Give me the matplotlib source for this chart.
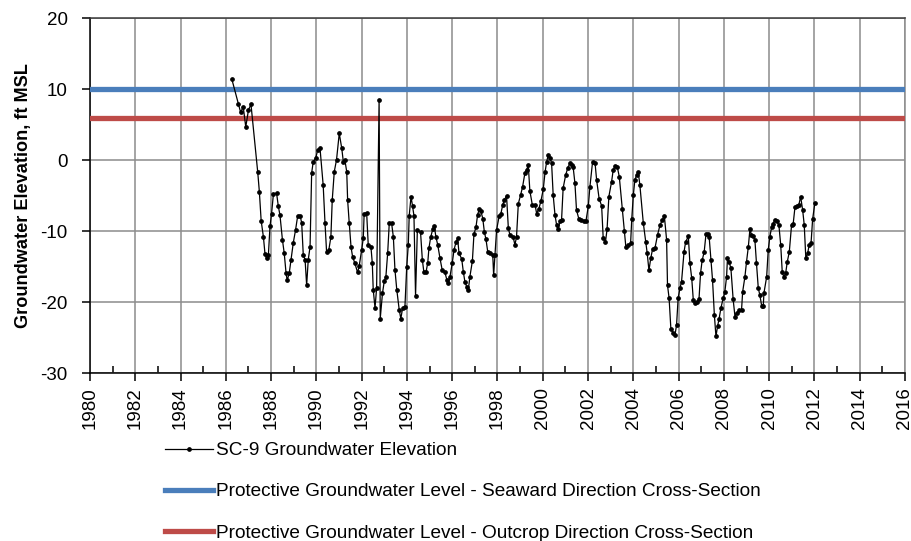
import matplotlib
matplotlib.use("Agg")
import matplotlib.pyplot as plt
from matplotlib.lines import Line2D
from matplotlib.ticker import MultipleLocator

plt.rcParams['font.family'] = ['Liberation Sans', 'DejaVu Sans']
plt.rcParams['axes.unicode_minus'] = False

# SC-9 groundwater elevation record (decimal year, ft MSL)
years = [
    1986.26, 1986.55, 1986.65, 1986.77, 1986.88, 1987.00, 1987.11, 1987.41, 1987.48, 1987.56,
    1987.66, 1987.73, 1987.80, 1987.88, 1987.95, 1988.02, 1988.10, 1988.24, 1988.32, 1988.39,
    1988.50, 1988.58, 1988.66, 1988.71, 1988.80, 1988.88, 1988.98, 1989.08, 1989.17, 1989.28,
    1989.35, 1989.42, 1989.50, 1989.57, 1989.64, 1989.72, 1989.79, 1989.86, 1989.97, 1990.06,
    1990.16, 1990.30, 1990.38, 1990.45, 1990.55, 1990.64, 1990.70, 1990.79, 1990.89, 1991.01,
    1991.12, 1991.19, 1991.26, 1991.34, 1991.38, 1991.45, 1991.53, 1991.60, 1991.70, 1991.82,
    1991.89, 1992.00, 1992.07, 1992.11, 1992.22, 1992.29, 1992.41, 1992.47, 1992.51, 1992.59,
    1992.66, 1992.77, 1992.82, 1992.92, 1993.00, 1993.07, 1993.15, 1993.22, 1993.32, 1993.40,
    1993.47, 1993.55, 1993.66, 1993.73, 1993.81, 1993.91, 1993.99, 1994.06, 1994.10, 1994.18,
    1994.25, 1994.31, 1994.38, 1994.46, 1994.60, 1994.68, 1994.75, 1994.84, 1994.92, 1994.97,
    1995.05, 1995.14, 1995.21, 1995.28, 1995.36, 1995.46, 1995.56, 1995.68, 1995.76, 1995.83,
    1995.90, 1996.00, 1996.08, 1996.17, 1996.24, 1996.30, 1996.42, 1996.49, 1996.56, 1996.64,
    1996.71, 1996.78, 1996.89, 1996.96, 1997.05, 1997.12, 1997.20, 1997.27, 1997.35, 1997.42,
    1997.49, 1997.57, 1997.67, 1997.79, 1997.83, 1997.89, 1997.96, 1998.07, 1998.15, 1998.23,
    1998.30, 1998.40, 1998.48, 1998.55, 1998.69, 1998.77, 1998.84, 1998.92, 1999.02, 1999.11,
    1999.21, 1999.29, 1999.36, 1999.43, 1999.54, 1999.66, 1999.73, 1999.83, 1999.92, 2000.02,
    2000.10, 2000.17, 2000.24, 2000.32, 2000.39, 2000.46, 2000.54, 2000.61, 2000.68, 2000.76,
    2000.83, 2000.90, 2001.01, 2001.10, 2001.20, 2001.27, 2001.34, 2001.42, 2001.49, 2001.59,
    2001.71, 2001.82, 2001.91, 2002.01, 2002.08, 2002.20, 2002.31, 2002.38, 2002.49, 2002.60,
    2002.67, 2002.77, 2002.84, 2002.92, 2003.04, 2003.11, 2003.19, 2003.29, 2003.38, 2003.51,
    2003.60, 2003.67, 2003.78, 2003.88, 2003.93, 2004.00, 2004.07, 2004.15, 2004.22, 2004.29,
    2004.44, 2004.55, 2004.61, 2004.69, 2004.77, 2004.85, 2004.96, 2005.07, 2005.18, 2005.28,
    2005.37, 2005.47, 2005.51, 2005.58, 2005.66, 2005.76, 2005.84, 2005.91, 2005.98, 2006.06,
    2006.13, 2006.24, 2006.31, 2006.43, 2006.50, 2006.58, 2006.65, 2006.72, 2006.80, 2006.90,
    2006.97, 2007.04, 2007.13, 2007.21, 2007.28, 2007.35, 2007.43, 2007.50, 2007.58, 2007.65,
    2007.72, 2007.79, 2007.87, 2007.97, 2008.04, 2008.12, 2008.16, 2008.23, 2008.31, 2008.41,
    2008.49, 2008.56, 2008.68, 2008.78, 2008.83, 2008.93, 2009.00, 2009.08, 2009.15, 2009.22,
    2009.30, 2009.37, 2009.44, 2009.52, 2009.59, 2009.67, 2009.74, 2009.77, 2009.89, 2009.96,
    2010.03, 2010.11, 2010.18, 2010.25, 2010.33, 2010.43, 2010.51, 2010.58, 2010.65, 2010.73,
    2010.80, 2010.89, 2010.99, 2011.06, 2011.14, 2011.21, 2011.31, 2011.39, 2011.48, 2011.55,
    2011.62, 2011.70, 2011.77, 2011.85, 2011.92, 2012.02,
]
elevation = [
    11.5, 8.0, 6.8, 7.5, 4.7, 7.1, 7.9, -1.7, -4.4, -8.5,
    -10.8, -13.2, -13.8, -13.3, -9.3, -7.5, -4.8, -4.6, -6.5, -7.7,
    -11.2, -13.1, -15.9, -16.9, -15.9, -14.0, -11.6, -9.8, -7.9, -7.8,
    -8.8, -13.3, -14.0, -17.6, -14.0, -12.2, -1.8, -0.2, 0.3, 1.5,
    1.7, -3.5, -8.8, -12.9, -12.6, -10.8, -5.6, -1.6, 0.1, 3.8,
    1.7, -0.2, 0.0, -1.6, -5.6, -8.8, -12.2, -13.6, -14.5, -15.8,
    -14.9, -12.6, -11.0, -7.5, -7.4, -11.9, -12.2, -14.5, -18.2, -20.8,
    -18.0, 8.5, -22.3, -18.7, -17.0, -16.4, -13.0, -8.8, -8.8, -10.8,
    -15.4, -18.2, -21.1, -22.3, -20.8, -20.7, -15.0, -11.9, -7.8, -5.1,
    -6.5, -7.8, -19.1, -9.8, -10.1, -14.0, -15.8, -15.8, -14.4, -12.4,
    -10.8, -9.7, -9.3, -10.8, -11.9, -13.8, -15.5, -15.8, -16.8, -17.3,
    -16.4, -14.5, -12.6, -11.5, -11.0, -13.1, -13.9, -15.7, -17.1, -17.8,
    -18.3, -16.4, -14.2, -10.4, -9.4, -7.7, -6.8, -7.2, -8.2, -10.1,
    -11.1, -12.9, -13.0, -13.3, -16.2, -13.3, -9.8, -7.9, -7.5, -6.3,
    -5.6, -5.0, -9.6, -10.5, -10.8, -11.9, -10.8, -6.1, -4.9, -3.7,
    -1.8, -1.3, -0.7, -4.3, -6.3, -6.3, -7.5, -6.8, -5.7, -4.1,
    -1.7, -0.2, 0.7, 0.3, -0.4, -4.9, -7.7, -9.1, -9.7, -8.6,
    -8.4, -3.9, -2.1, -1.1, -0.4, -0.7, -0.9, -3.2, -7.0, -8.2,
    -8.4, -8.5, -8.5, -6.5, -3.8, -0.2, -0.4, -2.8, -5.4, -6.4,
    -11.0, -11.5, -9.7, -5.1, -3.0, -1.4, -0.8, -0.9, -2.3, -6.8,
    -10.0, -12.2, -11.9, -11.7, -8.3, -4.9, -2.7, -2.1, -1.7, -3.5,
    -8.8, -11.5, -13.0, -15.5, -13.8, -12.5, -12.3, -10.5, -9.1, -8.4,
    -7.8, -11.2, -17.6, -19.4, -23.8, -24.3, -24.6, -23.2, -19.4, -18.0,
    -17.1, -12.9, -11.5, -10.7, -14.5, -16.6, -19.7, -20.1, -19.9, -19.6,
    -15.9, -14.1, -12.9, -10.4, -10.4, -10.8, -14.0, -16.9, -21.8, -24.8,
    -23.4, -22.3, -20.8, -19.4, -18.6, -16.4, -13.7, -14.3, -15.2, -19.6,
    -22.0, -21.5, -21.1, -21.1, -18.5, -16.4, -14.3, -12.2, -9.7, -10.5,
    -10.7, -11.2, -14.5, -18.0, -19.0, -20.5, -20.5, -18.7, -16.4, -12.6,
    -10.8, -9.4, -8.9, -8.4, -8.6, -9.1, -11.9, -15.8, -16.4, -15.9,
    -14.3, -12.9, -9.1, -9.0, -6.6, -6.5, -6.3, -5.1, -7.0, -9.1,
    -13.8, -13.1, -11.9, -11.7, -8.3, -6.0,
]

seaward_level = 10.0
outcrop_level = 6.0
x_range = (1980, 2016)
y_range = (-30, 20)

series_label = "SC-9 Groundwater Elevation"
seaward_label = "Protective Groundwater Level - Seaward Direction Cross-Section"
outcrop_label = "Protective Groundwater Level - Outcrop Direction Cross-Section"
y_label = "Groundwater Elevation, ft MSL"

blue = "#4A7EBB"
red = "#BE4B48"
grid_grey = "#8C8C8C"

fig = plt.figure(figsize=(9.12, 5.41), dpi=100)
ax = fig.add_axes([0.0987, 0.310, 0.8936, 0.656])

ax.axhline(seaward_level, color=blue, lw=3.8, zorder=3)
ax.axhline(outcrop_level, color=red, lw=3.8, zorder=3)
ax.plot(years, elevation, color="black", lw=0.9, marker="o", ms=2.4,
        mfc="black", mec="black", zorder=4)

ax.set_xlim(*x_range)
ax.set_ylim(*y_range)
ax.xaxis.set_major_locator(MultipleLocator(2))
ax.xaxis.set_minor_locator(MultipleLocator(1))
ax.yaxis.set_major_locator(MultipleLocator(10))

ax.grid(True, which="major", color=grid_grey, lw=1.1)
ax.set_axisbelow(True)

for side in ("left", "bottom"):
    ax.spines[side].set_color("black")
    ax.spines[side].set_linewidth(1.1)
ax.spines["top"].set_color("#3a3a3a")
ax.spines["top"].set_linewidth(1.1)
ax.spines["right"].set_color(grid_grey)
ax.spines["right"].set_linewidth(1.1)

ax.tick_params(axis="y", which="major", direction="out", length=6, width=1.1,
               labelsize=13.5, pad=10)
ax.tick_params(axis="x", which="major", direction="out", length=6, width=1.1,
               labelsize=13.5, pad=4, labelrotation=90)
ax.tick_params(axis="x", which="minor", direction="in", length=5, width=1.1)

ax.set_ylabel(y_label, fontsize=13.1, fontweight="bold", labelpad=6)

handles = [
    Line2D([0, 0.5, 1], [0, 0, 0], color="black", lw=0.9, marker="o", ms=2.4,
           markevery=[1]),
    Line2D([], [], color=blue, lw=3.8),
    Line2D([], [], color=red, lw=3.8),
]
fig.legend(handles, [series_label, seaward_label, outcrop_label],
           loc="upper left", bbox_to_anchor=(0.181, 0.183), frameon=False,
           fontsize=13.7, handlelength=2.5, handletextpad=0.2,
           labelspacing=1.25, borderaxespad=0, borderpad=0)

fig.savefig("out.png", dpi=100)
